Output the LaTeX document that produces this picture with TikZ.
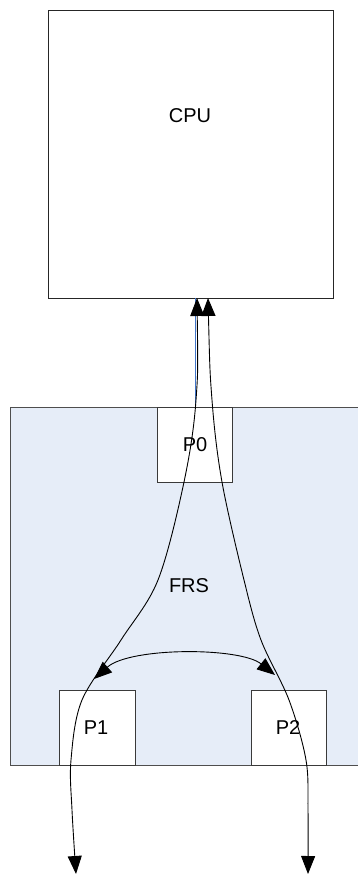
\documentclass[tikz,border=0pt]{standalone}
\usepackage{fontspec}
\setmainfont{Liberation Sans}
\usetikzlibrary{arrows.meta}
\definecolor{frsfill}{HTML}{E6EDF8}
\definecolor{boxline}{HTML}{3A3A3A}
\definecolor{linkblue}{HTML}{3F74C8}
\begin{document}
\begin{tikzpicture}[x=1pt,y=-1pt,
  box/.style={draw=boxline, line width=1pt, fill=white, inner sep=0pt},
  lbl/.style={inner sep=0pt, font=\fontsize{20}{24}\selectfont},
  conn/.style={draw=black, line width=0.9pt, {Triangle[length=18pt,width=14pt]}-{Triangle[length=18pt,width=14pt]}},
  outarrow/.style={draw=black, line width=0.9pt, -{Triangle[length=18pt,width=14pt]}}]
\useasboundingbox (0,0) rectangle (357,875);
% FRS area
\node (frs) [box, fill=frsfill, draw=boxline!90, minimum width=352pt, minimum height=358pt, anchor=north west] at (10,407) {};
\node (frslabel) [lbl] at (189,586) {FRS};
% CPU
\node (cpu) [box, draw=black!85, minimum width=285pt, minimum height=287pt] at (190.5,154.5) {};
\node (cpulabel) [lbl] at (190,116) {CPU};
% ports
\node (p0) [box, minimum width=75pt, minimum height=75pt] at (194.5,444.5) {};
\node (p0label) [lbl] at (195,445) {P0};
\node (p1) [box, minimum width=76pt, minimum height=75pt] at (97,728) {};
\node (p1label) [lbl] at (96,728) {P1};
\node (p2) [box, minimum width=75pt, minimum height=75pt] at (288.5,728) {};
\node (p2label) [lbl] at (288,728) {P2};
% connection points
\coordinate (cL) at (197,298);
\coordinate (cR) at (208,298);
\coordinate (outL) at (76,874);
\coordinate (outR) at (308,874);
\coordinate (a1) at (94,679);
\coordinate (a2) at (275,675);
% blue link CPU - P0
\draw[linkblue, line width=0.8pt] (195,298) -- (p0.north -| 195,0);
% curves
\draw[conn] plot[smooth, tension=0.55] coordinates {(cL) (196,400) (184,482) (158,580) (121,640) (82,700) (71,760) (72,810) (outL)};
\draw[conn] plot[smooth, tension=0.55] coordinates {(cR) (212,400) (222,482) (244,580) (261,640) (289,700) (306,760) (308,810) (outR)};
\draw[conn] (a1) .. controls (130,647) and (240,647) .. (a2);
\end{tikzpicture}
\end{document}
